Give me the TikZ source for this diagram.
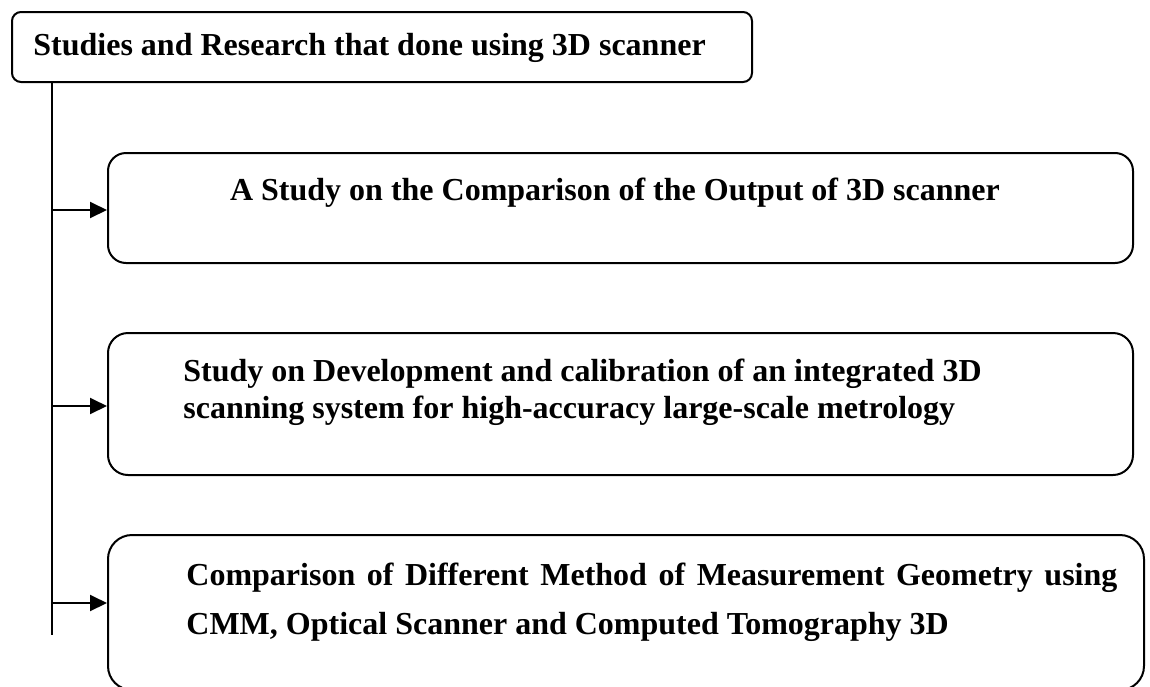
\documentclass[tikz,border=0pt]{standalone}
\usepackage{fontspec}
\setmainfont{Liberation Serif}
\usetikzlibrary{arrows.meta}

\tikzset{
 box/.style={draw,line width=1pt,inner sep=0pt},
 lbl/.style={inner sep=0pt,font=\fontsize{16}{18.5}\selectfont\bfseries},
 link/.style={line width=1pt,-{Triangle[length=8.5pt,width=8pt]}}
}

\begin{document}
\begin{tikzpicture}[x=0.5pt,y=-0.5pt]
\useasboundingbox (0,0) rectangle (1150,686);
\clip (0,0) rectangle (1150,686);
% boxes
\node[box,rounded corners=4.5pt,minimum width=370pt,minimum height=35pt] (top) at (382,47) {};
\node[box,rounded corners=9pt,minimum width=512.5pt,minimum height=55pt] (b1) at (620.5,208) {};
\node[box,rounded corners=10pt,minimum width=512.5pt,minimum height=71pt] (b2) at (620.5,404) {};
\node[box,rounded corners=12pt,minimum width=518pt,minimum height=77.5pt] (b3) at (626,612.5) {};
% texts
\node[lbl,anchor=base west] (ttop) at (33,55) {Studies and Research that done using 3D scanner};
\node[lbl,anchor=base] (t1) at (615,200) {A Study on the Comparison of the Output of 3D scanner};
\node[lbl,anchor=base west,align=left] (t2) at (183,418)
 {Study on Development and calibration of an integrated 3D\\scanning system for high-accuracy large-scale metrology};
\node[lbl,anchor=base west,align=justify,text width=465.5pt,font=\fontsize{16}{24.5}\selectfont\bfseries] (t3) at (186,585)
 {Comparison of Different Method of Measurement Geometry using CMM, Optical Scanner and Computed Tomography 3D};
% trunk and arrows
\coordinate (trunk) at (52,635);
\coordinate (j1) at (52,210);
\coordinate (j2) at (52,406);
\coordinate (j3) at (52,603);
\draw[line width=1pt] (top.south -| trunk) -- (trunk);
\draw[link] (j1) -- (j1 -| b1.west);
\draw[link] (j2) -- (j2 -| b2.west);
\draw[link] (j3) -- (j3 -| b3.west);
\end{tikzpicture}
\end{document}
